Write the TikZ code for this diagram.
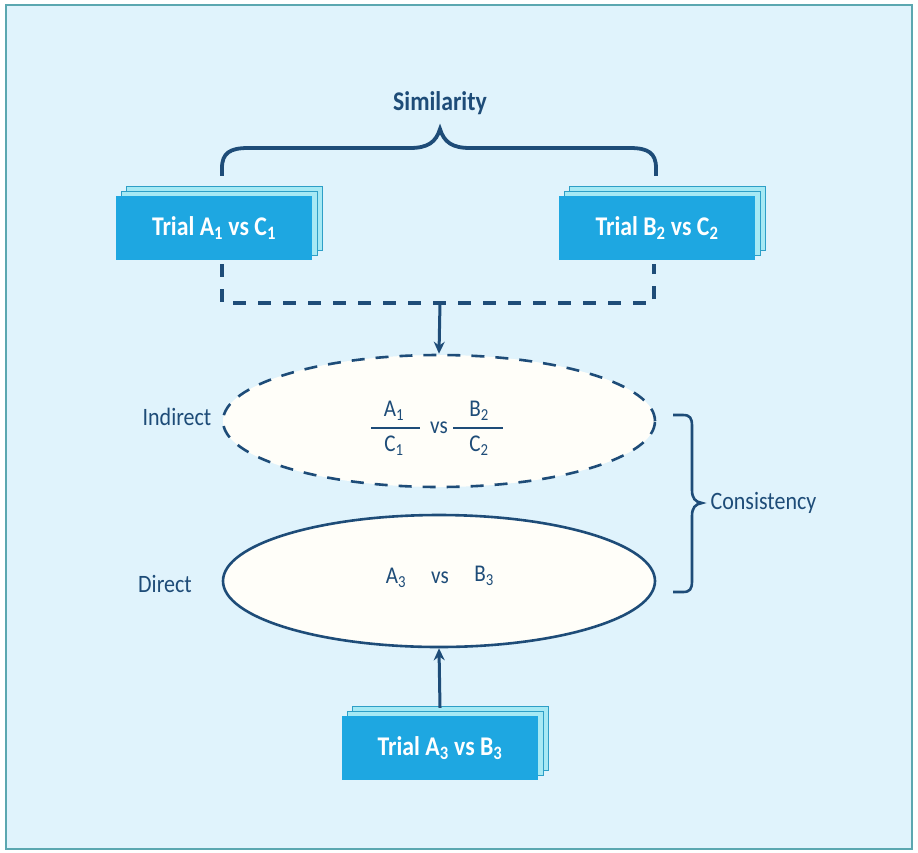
\documentclass[tikz,border=0pt]{standalone}
\usepackage{fontspec}
\setmainfont[FakeStretch=0.88]{Carlito}
\usetikzlibrary{arrows.meta,shadows,calc,shapes.geometric}

\definecolor{panelbg}{HTML}{E0F3FC}
\definecolor{panelline}{HTML}{5BA7B0}
\definecolor{ink}{HTML}{1E4C78}
\definecolor{boxblue}{HTML}{1EA7E1}
\definecolor{sheetfill}{HTML}{A6E9F4}
\definecolor{sheetline}{HTML}{2E9FC7}
\definecolor{ovalfill}{HTML}{FFFEF9}

\tikzset{
  trialbox/.style={fill=boxblue, minimum width=196pt, minimum height=64pt,
    inner sep=0pt, text=white, font=\fontsize{27}{30}\selectfont\bfseries,
    double copy shadow={shadow xshift=5pt, shadow yshift=5pt,
      fill=sheetfill, draw=sheetline, line width=0.8pt}},
  oval/.style={ellipse, fill=ovalfill, draw=ink, line width=2.6pt,
    minimum width=432pt, minimum height=132pt, inner sep=0pt},
  dashedoval/.style={oval, dash pattern=on 13pt off 11pt},
  label/.style={text=ink, font=\fontsize{25}{28}\selectfont},
  term/.style={text=ink, font=\fontsize{24}{26}\selectfont, inner sep=0pt},
  bracestroke/.style={draw=ink, line width=3.8pt},
  thinbrace/.style={draw=ink, line width=2.6pt},
  flowdash/.style={draw=ink, line width=3.8pt, dash pattern=on 13pt off 12pt},
  feed/.style={draw=ink, line width=3pt, -{Stealth[length=12pt,width=11pt]}},
  fracrule/.style={draw=ink, line width=1.3pt}
}

\begin{document}
\begin{tikzpicture}[x=1pt, y=-1pt]
  % panel
  \useasboundingbox (0,0) rectangle (918,852);
  \draw[fill=panelbg, draw=panelline, line width=2pt] (6,5) rectangle (912,849);

  % trials
  \node[trialbox] (tA) at (214,228) {Trial A\textsubscript{1} vs C\textsubscript{1}};
  \node[trialbox] (tB) at (657,228) {Trial B\textsubscript{2} vs C\textsubscript{2}};
  \node[trialbox] (tC) at (440,748) {Trial A\textsubscript{3} vs B\textsubscript{3}};

  % comparison ovals
  \node[dashedoval] (ind) at (439,421) {};
  \node[oval] (dir) at (439,581) {};

  % similarity brace over the two trials
  \coordinate (bl) at ($(tA.north)+(8,-20)$);
  \coordinate (br) at ($(tB.north)+(-1,-20)$);
  \coordinate (btip) at (440,129);
  \draw[bracestroke] (bl) -- (222,168) .. controls (222,153) and (230,148) .. (248,148)
    -- (410,148) .. controls (428,148) and (436,142) .. (btip)
    .. controls (444,142) and (452,148) .. (470,148)
    -- (630,148) .. controls (648,148) and (656,153) .. (656,168) -- (br);
  \node[label, font=\fontsize{27}{30}\selectfont\bfseries] (sim) at (440,103) {Similarity};

  % indirect route from both trials
  \coordinate (jn) at (440,303);
  \draw[flowdash] ($(tA.south)+(8,4)$) |- ($(tB.south)+(-3,43)$) -- ($(tB.south)+(-3,4)$);
  \draw[feed] (jn) -- (ind.north);

  % direct route
  \draw[feed] ($(tC.north)+(0,-8)$) -- (dir.south);

  % consistency brace
  \coordinate (ctip) at (702,503);
  \draw[thinbrace] (673,415) -- (683,415) .. controls (690,415) and (692,418) .. (692,426)
    -- (692,490) .. controls (692,498) and (695,502) .. (ctip)
    .. controls (695,504) and (692,508) .. (692,516)
    -- (692,581) .. controls (692,589) and (690,592) .. (683,592) -- (673,592);
  \node[label, anchor=west] (cons) at (707,503) {Consistency};

  % side labels
  \node[label] (lind) at (177,417) {Indirect};
  \node[label] (ldir) at (165,584) {Direct};

  % indirect ratio
  \node[term] (a1) at (394,411) {A\textsubscript{1}};
  \node[term] (c1) at (394,446) {C\textsubscript{1}};
  \draw[fracrule] (371,428) -- (420,428);
  \node[term] (vs1) at (439,428) {vs};
  \node[term] (b2) at (479,411) {B\textsubscript{2}};
  \node[term] (c2) at (479,446) {C\textsubscript{2}};
  \draw[fracrule] (453,428) -- (503,428);

  % direct comparison
  \node[term] (a3) at (396,578) {A\textsubscript{3}};
  \node[term] (vs2) at (440,578) {vs};
  \node[term] (b3) at (484,576) {B\textsubscript{3}};
\end{tikzpicture}
\end{document}
